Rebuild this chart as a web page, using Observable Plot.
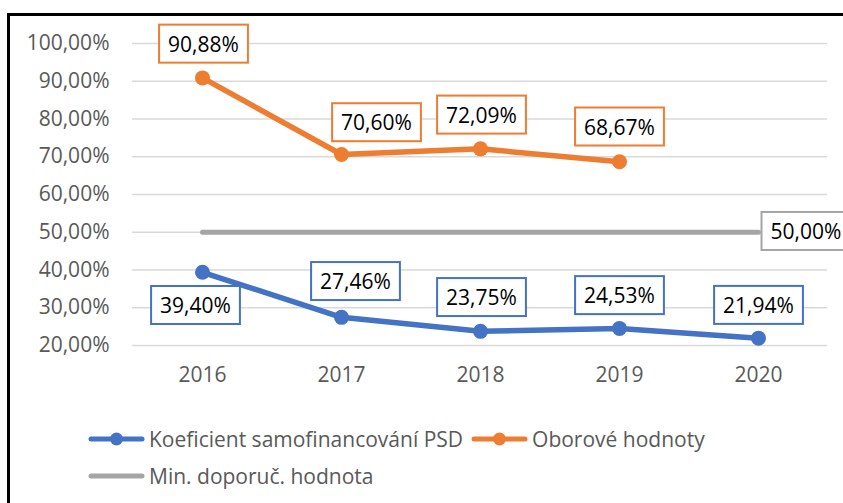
<!DOCTYPE html>
<html>
<head>
<meta charset="utf-8">
<script src="https://cdn.jsdelivr.net/npm/d3@7"></script>
<script src="https://cdn.jsdelivr.net/npm/@observablehq/plot@0.6"></script>
<style>
  html, body { margin: 0; padding: 0; background: #fff; overflow: hidden; width: 843px; height: 503px; }
  #frame { position: absolute; left: 7px; top: 13px; width: 900px; height: 600px; border-left: 3px solid #000; border-top: 3px solid #000; pointer-events: none; }
  #chart { position: absolute; left: 0; top: 0; }
  .legend { position: absolute; left: 88px; font-family: "Open Sans", sans-serif; font-size: 21px; color: #595959; display: flex; align-items: center; white-space: nowrap; }
  .item { display: flex; align-items: center; margin-right: 8px; }
  .item svg { margin-right: 4px; }
</style>
</head>
<body>
<div id="chart"></div>
<div id="frame"></div>
<div class="legend" id="leg1" style="top:425px"></div>
<div class="legend" id="leg2" style="top:462px"></div>
<script>
// ---- data ----
const years = ["2016", "2017", "2018", "2019", "2020"];
const koeficient = [39.40, 27.46, 23.75, 24.53, 21.94];
const oborove = [90.88, 70.60, 72.09, 68.67, null];
const minDoporuc = [50, 50, 50, 50, 50];
const yTicks = [20, 30, 40, 50, 60, 70, 80, 90, 100];
const seriesNames = ["Koeficient samofinancování PSD", "Oborové hodnoty", "Min. doporuč. hodnota"];

// ---- layout (label offsets in px, not data) ----
const koefLabelOffset = [[-7, 34], [14, -35], [1, -33], [0, -32], [0, -32]];
const oborLabelOffset = [[1, -33], [35, -31], [1, -33], [0, -34]];

const colors = {koef: "#4472c4", obor: "#ed7d31", min: "#a5a5a5"};
const fmt = v => v.toFixed(2).replace(".", ",") + "%";

const rowsKoef = years.map((year, i) => ({year, value: koeficient[i]}));
const rowsObor = years.map((year, i) => ({year, value: oborove[i]})).filter(d => d.value != null);
const rowsMin = years.map((year, i) => ({year, value: minDoporuc[i]}));

const labelMarks = [];
const boxColor = new Map();
rowsKoef.forEach((d, i) => {
  boxColor.set(fmt(d.value), colors.koef);
  labelMarks.push(Plot.text([d], {x: "year", y: "value", text: d => fmt(d.value), dx: koefLabelOffset[i][0], dy: koefLabelOffset[i][1], fill: "#000", fontSize: 21}));
});
rowsObor.forEach((d, i) => {
  boxColor.set(fmt(d.value), colors.obor);
  labelMarks.push(Plot.text([d], {x: "year", y: "value", text: d => fmt(d.value), dx: oborLabelOffset[i][0], dy: oborLabelOffset[i][1], fill: "#000", fontSize: 21}));
});
const lastMin = rowsMin[rowsMin.length - 1];
boxColor.set(fmt(lastMin.value), colors.min);
labelMarks.push(Plot.text([lastMin], {x: "year", y: "value", text: d => fmt(d.value), dx: 12, dy: 0, textAnchor: "start", fill: "#000", fontSize: 21}));

const chart = Plot.plot({
  width: 843,
  height: 400,
  marginLeft: 132,
  marginRight: 16,
  marginTop: 43,
  marginBottom: 55,
  style: {fontFamily: "Open Sans, sans-serif", fontSize: "21px", color: "#595959", background: "transparent", overflow: "visible"},
  x: {type: "point", domain: years, padding: 0.5, label: null},
  y: {domain: [20, 100], label: null},
  marks: [
    Plot.gridY(yTicks, {stroke: "#d9d9d9", strokeOpacity: 1, strokeWidth: 1.5}),
    Plot.axisY(yTicks, {tickSize: 0, tickPadding: 23, tickFormat: fmt, label: null, fontSize: 21}),
    Plot.axisX({tickSize: 0, tickPadding: 22, label: null, fontSize: 21}),
    Plot.line(rowsMin, {x: "year", y: "value", stroke: colors.min, strokeWidth: 5, strokeLinecap: "round"}),
    Plot.line(rowsKoef, {x: "year", y: "value", stroke: colors.koef, strokeWidth: 5.5, strokeLinecap: "round", strokeLinejoin: "round"}),
    Plot.dot(rowsKoef, {x: "year", y: "value", r: 7.5, fill: colors.koef}),
    Plot.line(rowsObor, {x: "year", y: "value", stroke: colors.obor, strokeWidth: 5.5, strokeLinecap: "round", strokeLinejoin: "round"}),
    Plot.dot(rowsObor, {x: "year", y: "value", r: 7.5, fill: colors.obor}),
    ...labelMarks
  ]
});
document.getElementById("chart").append(chart);

// boxes behind data labels
chart.querySelectorAll('g[aria-label="text"] text').forEach(t => {
  const color = boxColor.get(t.textContent);
  if (!color) return;
  const b = t.getBBox();
  const r = document.createElementNS("http://www.w3.org/2000/svg", "rect");
  const cy = b.y + b.height / 2;
  r.setAttribute("x", b.x - 9);
  r.setAttribute("width", b.width + 18);
  r.setAttribute("y", cy - 19);
  r.setAttribute("height", 38);
  r.setAttribute("fill", "#fff");
  r.setAttribute("stroke", color);
  r.setAttribute("stroke-width", 2);
  const tr = t.getAttribute("transform");
  if (tr) r.setAttribute("transform", tr);
  t.parentNode.insertBefore(r, t);
});

// legend
function swatch(color, dot) {
  return `<svg width="57" height="16" viewBox="0 0 57 16"><line x1="3" y1="8" x2="54" y2="8" stroke="${color}" stroke-width="5" stroke-linecap="round"/>${dot ? `<circle cx="28.5" cy="8" r="6.5" fill="${color}"/>` : ""}</svg>`;
}
document.getElementById("leg1").innerHTML =
  `<div class="item">${swatch(colors.koef, true)}<span>${seriesNames[0]}</span></div>` +
  `<div class="item">${swatch(colors.obor, true)}<span>${seriesNames[1]}</span></div>`;
document.getElementById("leg2").innerHTML =
  `<div class="item">${swatch(colors.min, false)}<span>${seriesNames[2]}</span></div>`;
</script>
</body>
</html>
